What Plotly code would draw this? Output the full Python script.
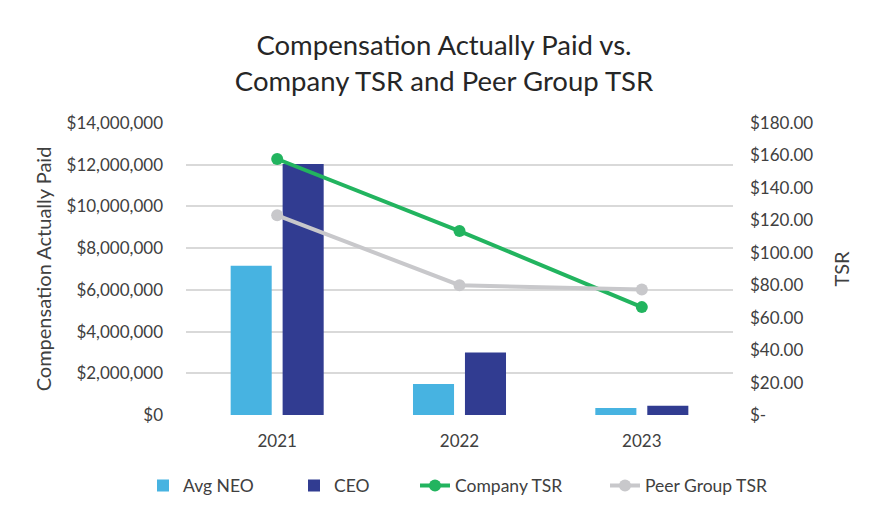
import plotly.graph_objects as go

years = ["2021", "2022", "2023"]
avg_neo = [7160000, 1490000, 330000]
ceo = [12030000, 3000000, 440000]
company_tsr = [157.8, 113.4, 66.5]
peer_tsr = [123.1, 80.0, 77.3]

left_tickvals = [0, 2000000, 4000000, 6000000, 8000000, 10000000, 12000000, 14000000]
right_tickvals = [0, 20, 40, 60, 80, 100, 120, 140, 160, 180]
right_ticktext = ["$-", "$20.00", "$40.00", "$60.00", "$80.00", "$100.00",
                  "$120.00", "$140.00", "$160.00", "$180.00"]

FONT = "Lato"
TXT = "#404040"

fig = go.Figure()
fig.add_trace(go.Bar(x=years, y=avg_neo, name="Avg NEO", marker_color="#47B3E1",
                     marker_line_width=0, legendwidth=106))
fig.add_trace(go.Bar(x=years, y=ceo, name="CEO", marker_color="#313C91",
                     marker_line_width=0, legendwidth=76))
fig.add_trace(go.Scatter(x=years, y=company_tsr, name="Company TSR", yaxis="y2",
                         mode="lines+markers", line=dict(color="#22B45F", width=4),
                         marker=dict(size=12, color="#22B45F"), legendwidth=145))
fig.add_trace(go.Scatter(x=years, y=peer_tsr, name="Peer Group TSR", yaxis="y2",
                         mode="lines+markers", line=dict(color="#C8C8CB", width=4),
                         marker=dict(size=12, color="#C8C8CB"), legendwidth=130))

# page body has an 8px margin, so figure coords = reference coords - 8
W, H = 864, 507
ml, mr, mt, mb = 178, 139, 115, 98
pw, ph = W - ml - mr, H - mt - mb

fig.update_layout(
    width=W, height=H,
    margin=dict(l=ml, r=mr, t=mt, b=mb),
    paper_bgcolor="white", plot_bgcolor="white",
    font=dict(family=FONT, color=TXT, size=17),
    title=dict(text="Compensation Actually Paid vs.<br>Company TSR and Peer Group TSR",
               x=436 / W, xref="container", xanchor="center",
               y=1 - 47 / H, yref="container", yanchor="middle",
               font=dict(family=FONT, size=27.5, color="#262626")),
    barmode="group", bargap=0.43, bargroupgap=0.21,
    xaxis=dict(showgrid=False, showline=False, tickfont=dict(size=17),
               ticks="", ticklabelstandoff=14),
    yaxis=dict(range=[0, 14000000], tickvals=left_tickvals,
               tickformat="$,.0f", showgrid=True, gridcolor="#D9D9D9", gridwidth=1.5,
               zeroline=False, showline=False, ticklabelstandoff=22,
               title=dict(text="Compensation Actually Paid", standoff=9,
                          font=dict(size=20, color=TXT))),
    yaxis2=dict(range=[0, 180], overlaying="y", side="right",
                tickvals=right_tickvals, ticktext=right_ticktext,
                showgrid=False, zeroline=False, showline=False, ticklabelstandoff=16,
                title=dict(text="TSR", standoff=22, font=dict(size=20, color=TXT))),
    legend=dict(orientation="h", x=(135 - ml) / pw, xanchor="left",
                y=-(480 - (mt + ph)) / ph, yanchor="middle",
                font=dict(size=17.5), traceorder="normal"),
)

fig.write_html("out.html")
